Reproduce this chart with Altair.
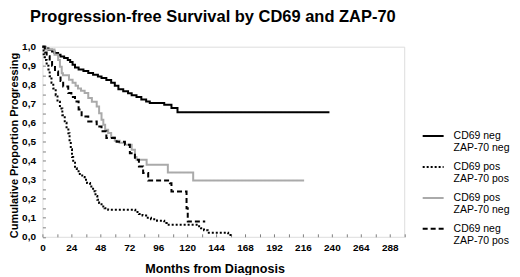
import altair as alt
import pandas as pd

groups = ["CD69 neg|ZAP-70 neg", "CD69 pos|ZAP-70 pos", "CD69 pos|ZAP-70 neg", "CD69 neg|ZAP-70 pos"]
colors = ["#000000", "#000000", "#aaaaaa", "#000000"]
dashes = [[1, 0], [2, 2], [1, 0], [5, 3]]

# CD69 neg / ZAP-70 neg (solid black)
a_t = [0, 2, 5, 8, 10, 13, 15, 18, 21, 23, 25, 27, 30, 34, 38, 42, 46, 49, 53, 57, 60, 63, 67, 71, 74, 78, 82, 86, 89, 101, 107, 112, 238]
a_s = [1.0, 0.99, 0.984, 0.975, 0.967, 0.958, 0.949, 0.94, 0.93, 0.92, 0.905, 0.89, 0.88, 0.872, 0.862, 0.853, 0.843, 0.835, 0.825, 0.81, 0.795, 0.776, 0.765, 0.755, 0.745, 0.735, 0.722, 0.712, 0.704, 0.695, 0.678, 0.655, 0.655]

# CD69 pos / ZAP-70 pos (dotted black)
b_t = [0, 1, 2, 3.5, 5, 6, 7.5, 9, 11, 12.5, 14.5, 16.5, 18.5, 20, 21.5, 22.5, 23.5, 24.5, 25.5, 27, 28.5, 31, 33, 35, 37, 39.5, 42, 44, 45.5, 47, 49, 51.5, 54.5, 77, 80, 83, 86, 90, 95, 101, 103, 129, 131.5, 134, 137, 154, 157]
b_s = [1.0, 0.96, 0.93, 0.9, 0.88, 0.845, 0.81, 0.78, 0.745, 0.71, 0.675, 0.64, 0.6, 0.57, 0.545, 0.5, 0.46, 0.42, 0.39, 0.36, 0.345, 0.33, 0.315, 0.3, 0.283, 0.265, 0.24, 0.215, 0.195, 0.178, 0.16, 0.15, 0.142, 0.13, 0.12, 0.112, 0.1, 0.092, 0.085, 0.072, 0.063, 0.055, 0.045, 0.035, 0.022, 0.01, 0.01]

# CD69 pos / ZAP-70 neg (solid grey)
c_t = [0, 3, 10, 13, 14.5, 16, 17, 22, 25, 27.5, 29.5, 32, 35, 38, 41, 45, 47, 49, 50.5, 52, 54.5, 57, 60, 64, 68.5, 74, 76.7, 78, 86.4, 104, 125, 217]
c_s = [1.0, 0.985, 0.958, 0.93, 0.895, 0.86, 0.85, 0.826, 0.81, 0.795, 0.78, 0.768, 0.756, 0.73, 0.71, 0.686, 0.65, 0.616, 0.59, 0.563, 0.546, 0.525, 0.505, 0.495, 0.484, 0.458, 0.42, 0.405, 0.379, 0.338, 0.296, 0.296]

# CD69 neg / ZAP-70 pos (dashed black)
d_t = [0, 2, 3.5, 6, 8, 10.4, 13, 15, 17.2, 21.4, 24, 27, 30, 32.5, 38, 45, 49, 53, 61.5, 68.4, 72.5, 76.7, 80, 83.5, 87.7, 105.7, 107, 119.5, 120.5, 135]
d_s = [1.0, 0.97, 0.95, 0.92, 0.9, 0.87, 0.845, 0.82, 0.79, 0.756, 0.735, 0.712, 0.67, 0.633, 0.607, 0.58, 0.555, 0.52, 0.5, 0.484, 0.44, 0.405, 0.37, 0.335, 0.296, 0.282, 0.238, 0.15, 0.08, 0.08]

x_ticks = list(range(0, 301, 12))
y_ticks = [round(i * 0.05, 2) for i in range(21)]

rows = []
for g, ts, ss in zip(groups, [a_t, b_t, c_t, d_t], [a_s, b_s, c_s, d_s]):
    for t, s in zip(ts, ss):
        rows.append({"group": g, "month": t, "surv": s})
df = pd.DataFrame(rows)

FONT = "Liberation Sans"

legend_kw = dict(
    title=None, orient="none", legendX=380, legendY=78, padding=0,
    symbolType="stroke", symbolSize=441, symbolStrokeWidth=2,
    labelFont=FONT, labelFontSize=10.5, labelColor="#000000",
    labelBaseline="middle", labelOffset=9,
    labelExpr="split(datum.label, '|')", rowPadding=1,
    labelLimit=200,
)

chart = alt.Chart(df).mark_line(interpolate="step-after", strokeWidth=2).encode(
    x=alt.X("month:Q",
            scale=alt.Scale(domain=[0, 300], nice=False, zero=False),
            axis=alt.Axis(values=x_ticks,
                          labelExpr="datum.value % 24 == 0 ? datum.label : ''",
                          title="Months from Diagnosis", offset=-3, tickSize=3,
                          domain=False, grid=False, labelFlush=False,
                          labelPadding=6, labelFont=FONT, labelFontWeight="bold",
                          labelFontSize=10, labelColor="#000000", tickColor="#808080",
                          titleFont=FONT, titleFontWeight="bold", titleFontSize=12.6,
                          titleColor="#000000", titleBaseline="alphabetic",
                          titleX=172.5, titleY=38.8, titleAlign="center")),
    y=alt.Y("surv:Q",
            scale=alt.Scale(domain=[0, 1], nice=False, zero=False),
            axis=alt.Axis(values=y_ticks,
                          labelExpr="(round(datum.value*100) % 10 == 0) ? replace(format(datum.value, '.1f'), '.', ',') : ''",
                          title="Cumulative Proportion Progressing", offset=-3, tickSize=3,
                          domain=False, grid=False, labelFlush=False,
                          labelPadding=7, labelFont=FONT, labelFontWeight="bold",
                          labelFontSize=10, labelColor="#000000", tickColor="#808080",
                          titleFont=FONT, titleFontWeight="bold", titleFontSize=11,
                          titleColor="#000000", titleBaseline="alphabetic",
                          titleAngle=270, titleX=-27.5, titleY=98.5, titleAlign="center")),
    color=alt.Color("group:N", scale=alt.Scale(domain=groups, range=colors),
                    legend=alt.Legend(**legend_kw)),
    strokeDash=alt.StrokeDash("group:N", scale=alt.Scale(domain=groups, range=dashes),
                              legend=alt.Legend(**legend_kw)),
).properties(
    width=362.5,
    height=190.5,
    title=alt.TitleParams(
        "Progression-free Survival by CD69 and ZAP-70",
        font=FONT, fontSize=16.5, fontWeight="bold", color="#000000",
        anchor="start", frame="group", dx=-12.5, offset=16,
    ),
    autosize=alt.AutoSizeParams(type="none"),
    padding={"left": 34.5, "top": 38.5, "right": 108, "bottom": 38},
).configure_view(
    stroke="#8a8a8a", strokeWidth=1
).configure(background="#ffffff")

chart.save("out.html", embed_options={"renderer": "svg", "actions": False})
